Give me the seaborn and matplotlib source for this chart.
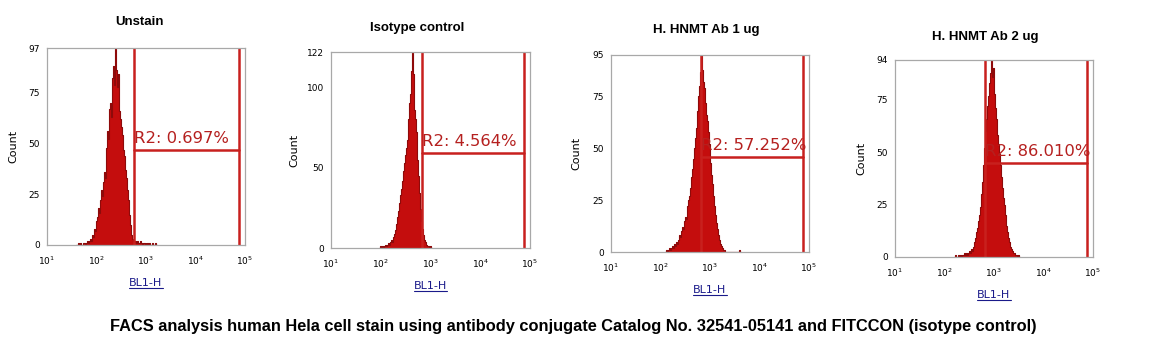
import numpy as np
import matplotlib
matplotlib.use("Agg")
import matplotlib.pyplot as plt
from matplotlib.lines import Line2D
from matplotlib.ticker import FixedLocator, MultipleLocator, LogLocator, NullFormatter
import seaborn as sns

sns.set_theme(style="white")
plt.rcParams["font.family"] = ["DejaVu Sans"]
plt.rcParams["text.color"] = "black"
plt.rcParams["axes.labelcolor"] = "black"

# ---------------- data ----------------
titles = ["Unstain", "Isotype control", "H. HNMT Ab 1 ug", "H. HNMT Ab 2 ug"]
gate_labels = ["R2: 0.697%", "R2: 4.564%", "R2: 57.252%", "R2: 86.010%"]
y_max = [97, 122, 95, 94]
gate_low_log = [2.76, 2.83, 2.82, 2.82]
gate_high_log = [4.88, 4.88, 4.88, 4.88]
gate_height = [47, 59, 46, 45]
bin_width_log = 0.02
bin_start_log = [1.60, 1.98, 2.10, 2.20]

counts_unstain = [0, 0, 1, 0, 1, 0, 0, 1, 1, 0, 1, 2, 1, 2, 3, 2, 5, 4, 8, 7,
                  12, 14, 18, 16, 22, 27, 24, 31, 36, 33, 48, 56, 52, 67, 70, 63, 82, 88, 79, 97,
                  86, 78, 84, 66, 62, 58, 54, 47, 44, 37, 33, 27, 22, 15, 10, 5, 3, 2, 1, 2,
                  1, 2, 1, 1, 2, 1, 0, 1, 1, 0, 1, 0, 1, 0, 1, 0, 0, 1, 0, 0, 1, 0]
counts_isotype = [0, 1, 0, 1, 0, 1, 2, 1, 2, 3, 2, 4, 5, 4, 7, 9, 11, 15, 19, 23,
                  28, 33, 37, 42, 48, 53, 58, 62, 67, 80, 90, 96, 110, 122, 108, 86, 80, 72, 55, 45,
                  34, 24, 17, 12, 8, 5, 4, 2, 1, 1, 0, 1, 0]
counts_ab1 = [0, 1, 0, 1, 2, 1, 2, 3, 2, 4, 3, 5, 4, 6, 8, 7, 10, 12, 11, 15,
              17, 16, 22, 25, 27, 31, 36, 40, 45, 50, 55, 60, 68, 75, 80, 87, 95, 88, 82, 79,
              72, 66, 63, 58, 52, 48, 43, 37, 33, 27, 22, 18, 14, 11, 8, 6, 4, 3, 2, 1,
              1, 0, 0, 0, 0, 0, 0, 0, 0, 0, 0, 0, 0, 0, 0, 1, 0]
counts_ab2 = [0, 1, 0, 0, 1, 0, 1, 0, 1, 1, 2, 1, 2, 1, 2, 3, 2, 4, 3, 5,
              7, 9, 12, 14, 17, 20, 24, 30, 36, 44, 52, 60, 66, 72, 77, 83, 88, 94, 86, 90,
              84, 78, 71, 66, 58, 54, 49, 44, 38, 33, 28, 25, 20, 15, 12, 9, 7, 5, 4, 3,
              2, 2, 1, 1, 0, 1, 0]
all_counts = [counts_unstain, counts_isotype, counts_ab1, counts_ab2]

x_tick_exps = [1, 2, 3, 4, 5]
x_label = "BL1-H"
y_label = "Count"
caption = ("FACS analysis human Hela cell stain using antibody conjugate "
           "Catalog No. 32541-05141 and FITCCON (isotype control)")

# ---------------- layout (pixels) ----------------
W, H = 1151, 359
fig = plt.figure(figsize=(W / 100, H / 100), dpi=100)
boxes = [(47, 245, 48, 245), (331, 530, 52, 248), (611, 809, 55, 252), (895, 1093, 60, 257)]
title_pos = [(140, 22), (417, 28), (706, 30), (985, 37)]
ylabel_pad = [7, 5, 8, 7]

red_fill = "#c40d0d"
red_edge = "#8e0a0a"
gate_col = "#c8201e"
spine_col = "#a8a8a8"

axes = []
for i, (l, r, t, b) in enumerate(boxes):
    ax = fig.add_axes([l / W, 1 - b / H, (r - l) / W, (b - t) / H])
    axes.append(ax)
    cnt = np.array(all_counts[i], dtype=float)
    logs = bin_start_log[i] + bin_width_log * np.arange(len(cnt))
    sns.histplot(x=10 ** logs, weights=cnt, log_scale=True,
                 binwidth=bin_width_log,
                 binrange=(logs[0] - bin_width_log / 2, logs[-1] + bin_width_log / 2),
                 element="step", fill=True, color=red_fill, alpha=1.0,
                 edgecolor=red_edge, linewidth=0.8, ax=ax)
    ax.set_xlim(10 ** 1, 10 ** 5)
    ax.set_ylim(0, y_max[i])

    # gates
    gl, gh = 10 ** gate_low_log[i], 10 ** gate_high_log[i]
    ax.axvline(gl, color=gate_col, lw=1.8)
    ax.axvline(gh, color=gate_col, lw=1.8)
    ax.plot([gl, gh], [gate_height[i], gate_height[i]], color=gate_col, lw=1.8)
    ax.text(gl * 1.0, gate_height[i] + y_max[i] * 0.02, gate_labels[i],
            color="#b5201f", fontsize=11.8, ha="left", va="bottom", zorder=6)

    # ticks
    yt = [0, 25, 50, 75, y_max[i]] if y_max[i] < 100 else [0, 50, 100, y_max[i]]
    ax.yaxis.set_major_locator(FixedLocator(yt))
    ax.set_yticklabels([str(v) for v in yt])
    ax.yaxis.set_minor_locator(MultipleLocator(5))
    ax.xaxis.set_major_locator(FixedLocator([10.0 ** e for e in x_tick_exps]))
    ax.set_xticklabels([f"$10^{{{e}}}$" for e in x_tick_exps])
    ax.xaxis.set_minor_locator(LogLocator(base=10, subs=np.arange(2, 10)))
    ax.xaxis.set_minor_formatter(NullFormatter())
    ax.tick_params(axis="both", which="major", direction="out", length=3, width=0.6,
                   colors=spine_col, labelcolor="black", labelsize=6.5, pad=2)
    ax.tick_params(axis="both", which="minor", direction="out", length=2, width=0.5,
                   colors=spine_col)
    ax.tick_params(axis="x", which="major", pad=4)
    for s in ax.spines.values():
        s.set_color(spine_col)
        s.set_linewidth(0.9)
    ax.set_xlabel(x_label, color="#1a1a8a", fontsize=8, labelpad=8)
    ax.set_ylabel(y_label, fontsize=8, labelpad=ylabel_pad[i], color="black")
    ax.grid(False)

    fig.text(title_pos[i][0] / W, 1 - title_pos[i][1] / H, titles[i],
             ha="center", va="center", fontsize=9.5, fontweight="bold",
             family="Liberation Sans", color="black")

fig.text(573 / W, 1 - 327 / H, caption, ha="center", va="center",
         fontsize=11.8, fontweight="bold", family="Liberation Sans", color="black")

# underline the x labels
fig.canvas.draw()
renderer = fig.canvas.get_renderer()
for ax in axes:
    bb = ax.xaxis.label.get_window_extent(renderer)
    yline = bb.y0 + 0.5
    fig.add_artist(Line2D([bb.x0 / W, bb.x1 / W], [yline / H, yline / H],
                          transform=fig.transFigure, color="#1a1a8a", lw=0.8))

fig.savefig("out.png", dpi=100, facecolor="white")
